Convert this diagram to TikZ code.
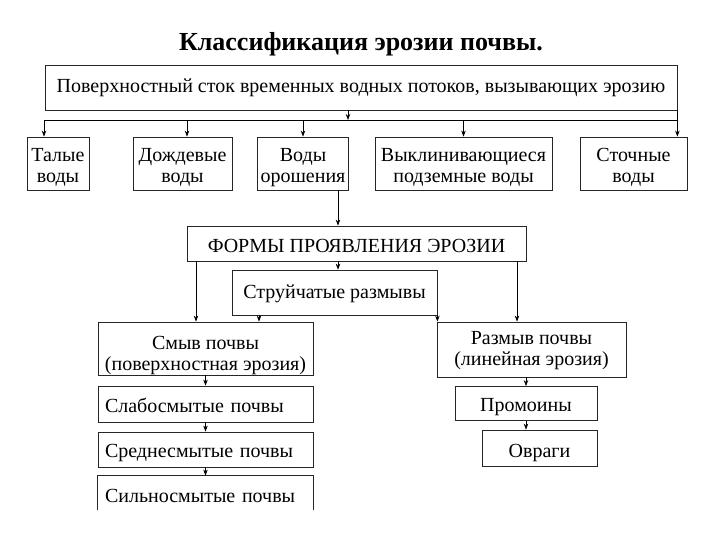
\documentclass[tikz,border=0pt]{standalone}
\usepackage{fontspec}
\setmainfont{Liberation Serif}
\usetikzlibrary{arrows.meta}

\begin{document}
\begin{tikzpicture}
		[x=1pt,y=-1pt,
		>={Stealth[length=6pt,width=4.5pt]},
		b/.style= {draw=black!85,line width=0.8pt,inner sep=3pt,align=center,font=\fontsize{20}{21}\selectfont},
		th/.style= {text height=#1,text depth=0pt},
		tt/.style 2 args= {text height=#1,text depth=#2},
		bl/.style= {b,align=left,inner xsep=7pt,text width=201pt,th=16pt},
		a/.style= {->,line width=0.7pt}]

	\useasboundingbox (0,0) rectangle (720,540);

	\node[font=\fontsize{26}{28}\selectfont\bfseries,anchor=base] (title) at (361,51) {Классификация эрозии почвы.};

	% source and its kinds
	\node[b,th=11pt,minimum width=632pt,minimum height=45pt] (src) at (361,87.5) {Поверхностный сток временных водных потоков, вызывающих эрозию};

	\node[b,tt={40pt}{1pt},minimum width=62pt,minimum height=53pt] (talye) at (58,163.5) {Талые\\воды};
	\node[b,tt={40pt}{1pt},minimum width=99pt,minimum height=53pt] (dozhd) at (182.5,163.5) {Дождевые\\воды};
	\node[b,tt={40pt}{1pt},minimum width=90pt,minimum height=53pt] (orosh) at (303,163.5) {Воды\\орошения};
	\node[b,tt={40pt}{1pt},minimum width=177pt,minimum height=53pt] (vykl) at (463.5,163.5) {Выклинивающиеся\\подземные воды};
	\node[b,tt={40pt}{1pt},minimum width=107pt,minimum height=53pt] (stoch) at (633.5,163.5) {Сточные\\воды};

	\coordinate (bL) at (44,120);
	\coordinate (bR) at (src.south east |- bL);
	\draw[a] (src.south -| 348,0) -- (348,120);
	\draw[line width=0.7pt] (bL) -- (bR);
	\draw[a] (bL) -- (bL |- talye.north);
	\draw[a] (187,120) -- (187,0 |- dozhd.north);
	\draw[a] (orosh.north |- bL) -- (orosh.north);
	\draw[a] (vykl.north |- bL) -- (vykl.north);
	\draw[a] (src.south east) -- (src.south east |- stoch.north);

	% forms
	\node[b,th=17pt,minimum width=339pt,minimum height=35pt] (formy) at (356.5,243.5) {ФОРМЫ ПРОЯВЛЕНИЯ ЭРОЗИИ};
	\node[b,th=11pt,minimum width=205pt,minimum height=45pt] (strui) at (334.5,292.5) {Струйчатые размывы};

	\draw[a] (orosh.south -| 338,0) -- (338,0 |- formy.north);
	\draw[a] (formy.south -| 338,0) -- (338,0 |- strui.north);

	% surface erosion
	\node[b,tt={44pt}{1pt},minimum width=215pt,minimum height=53pt] (smyv) at (205.5,348.5) {Смыв почвы\\(поверхностная эрозия)};
	\node[bl,minimum height=36pt] (slabo) at (205.5,404) {Слабосмытые почвы}
		edge [<-,line width=0.7pt] (smyv)
	;
	\node[bl,minimum height=35pt] (sredne) at (205.5,449.5) {Среднесмытые почвы}
		edge [<-,line width=0.7pt] (slabo)
	;
	\node[bl,th=18pt,draw=none,minimum height=34pt] (silno) at (205.5,493) {Сильносмытые почвы}
		edge [<-,line width=0.7pt] (sredne)
	;
	\draw[draw=black!85,line width=0.8pt] (silno.south west) |- (silno.north east) -- (silno.south east);

	% linear erosion
	\node[b,tt={32pt}{1pt},minimum width=189pt,minimum height=55pt] (razmyv) at (531.5,349.5) {Размыв почвы\\(линейная эрозия)};
	\node[b,th=16pt,minimum width=142pt,minimum height=34pt] (promoiny) at (526,403.5) {Промоины};
	\node[b,th=18pt,minimum width=115pt,minimum height=36pt] (ovragi) at (539.5,448) {Овраги};

	\draw[a] (razmyv.south -| promoiny.north) -- (promoiny.north);
	\draw[a] (promoiny.south) -- (promoiny.south |- ovragi.north);

	\draw[a] (formy.south -| 196,0) -- (196,0 |- smyv.north);
	\draw[a] (formy.south -| 517,0) -- (517,0 |- razmyv.north);
	\draw[a] (strui.south -| 259,0) -- (259,0 |- smyv.north);
	\draw[a] (strui.south east) -- (strui.south east |- razmyv.north);

\end{tikzpicture}
\end{document}
